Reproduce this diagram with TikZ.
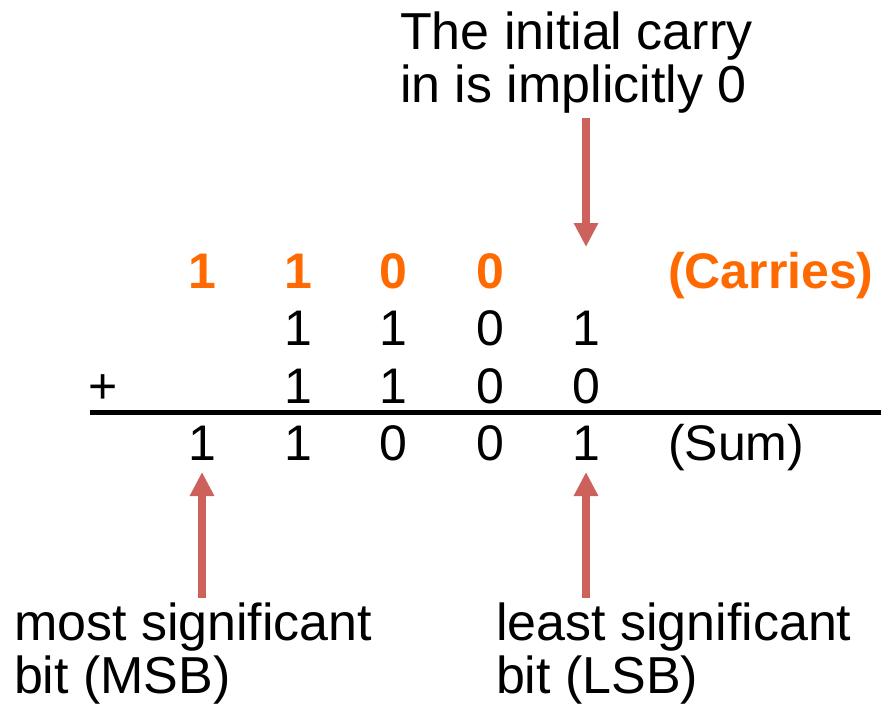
\documentclass[tikz,border=0pt]{standalone}
\usepackage{fontspec}
\setmainfont{Liberation Sans}
\usetikzlibrary{arrows.meta}
\definecolor{carryorange}{HTML}{FF6A00}
\definecolor{arrowred}{HTML}{CD615C}
\begin{document}
\begin{tikzpicture}[x=1pt,y=-1pt,
  txt/.style={inner sep=0pt,outer sep=0pt,font=\fontsize{50}{60}\selectfont},
  digit/.style={txt,anchor=base},
  carry/.style={digit,text=carryorange,font=\fontsize{50}{60}\selectfont\bfseries},
  label/.style={txt,anchor=base west,font=\fontsize{52}{60}\selectfont},
  bigarrow/.style={draw=arrowred,line width=8pt,-{Triangle[width=23pt,length=24pt]}}]
\useasboundingbox (0,0) rectangle (881,706);
% top text
\node[label] (top1) at (400,50) {The initial carry};
\node[label] (top2) at (400,103) {in is implicitly 0};
% carries
\node[carry] (c1) at (202,288) {1};
\node[carry] (c2) at (298,288) {1};
\node[carry] (c3) at (393,288) {0};
\node[carry] (c4) at (490,288) {0};
\node[label,text=carryorange,font=\fontsize{50}{60}\selectfont\bfseries] (carries) at (668,288) {(Carries)};
% row 1
\node[digit] (a2) at (298,345) {1};
\node[digit] (a3) at (393,345) {1};
\node[digit] (a4) at (490,345) {0};
\node[digit] (a5) at (586,345) {1};
% row 2
\node[digit] (plus) at (103,403) {+};
\node[digit] (b2) at (298,403) {1};
\node[digit] (b3) at (393,403) {1};
\node[digit] (b4) at (490,403) {0};
\node[digit] (b5) at (586,403) {0};
% rule
\coordinate (ruleL) at (90,412);
\coordinate (ruleR) at (881,412);
\draw[line width=5pt] (ruleL) -- (ruleR);
% sum
\node[digit] (s1) at (202,460) {1};
\node[digit] (s2) at (298,460) {1};
\node[digit] (s3) at (393,460) {0};
\node[digit] (s4) at (490,460) {0};
\node[digit] (s5) at (586,460) {1};
\node[label,font=\fontsize{50}{60}\selectfont] (sum) at (668,460) {(Sum)};
% bottom labels
\node[label] (msb1) at (14,640) {most significant};
\node[label] (msb2) at (14,693) {bit (MSB)};
\node[label] (lsb1) at (496,640) {least significant};
\node[label] (lsb2) at (496,693) {bit (LSB)};
% arrows
\coordinate (topS) at (586,118);
\coordinate (topE) at (586,247);
\coordinate (msbS) at (202,598);
\coordinate (msbE) at (202,472);
\coordinate (lsbS) at (586,598);
\coordinate (lsbE) at (586,472);
\draw[bigarrow] (topS) -- (topE);
\draw[bigarrow] (msbS) -- (msbE);
\draw[bigarrow] (lsbS) -- (lsbE);
\end{tikzpicture}
\end{document}
